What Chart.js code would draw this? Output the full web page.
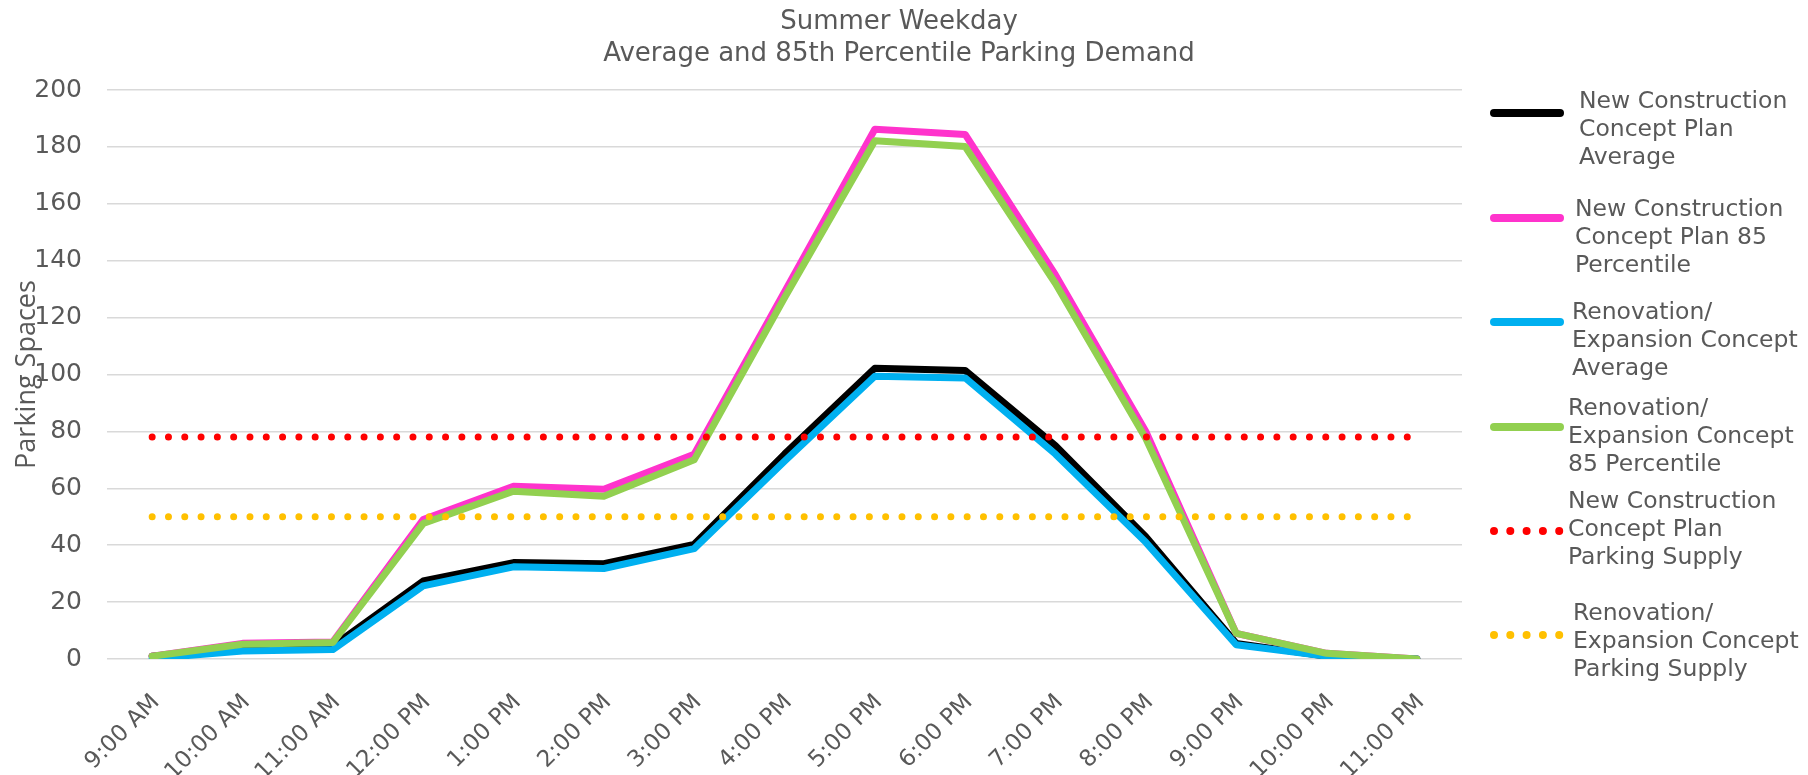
<!DOCTYPE html>
<html>
<head>
<meta charset="utf-8">
<script src="https://cdn.jsdelivr.net/npm/chart.js@4.4.1/dist/chart.umd.min.js"></script>
<style>
  html, body { margin: 0; padding: 0; background: #ffffff; }
  #wrap { position: relative; width: 1808px; height: 775px; }
</style>
</head>
<body>
<div id="wrap"><canvas id="demand"></canvas></div>
<script>
// Hourly parking demand, summer weekday
const hours = ['9:00 AM', '10:00 AM', '11:00 AM', '12:00 PM', '1:00 PM', '2:00 PM', '3:00 PM',
               '4:00 PM', '5:00 PM', '6:00 PM', '7:00 PM', '8:00 PM', '9:00 PM', '10:00 PM', '11:00 PM'];

const newConstructionAverage = [1, 4, 4.5, 27.4, 33.9, 33.5, 40.3, 72, 102.2, 101.4, 75, 43, 5.5, 1, 0];
const newConstruction85      = [1, 5.5, 6, 49, 60.7, 59.7, 72, 129, 186.2, 184.4, 135, 80, 9, 2, 0];
const renovationAverage      = [0.2, 2.8, 3.3, 25.7, 32.4, 31.8, 38.8, 69.5, 99.4, 98.8, 72, 41, 5, 1, 0];
const renovation85           = [1, 5.2, 5.8, 47.6, 59, 57.2, 70, 127, 182.2, 180.1, 132, 77.5, 9, 2, 0];
const newConstructionSupply  = [78, 78, 78, 78, 78, 78, 78, 78, 78, 78, 78, 78, 78, 78, 78];
const renovationSupply       = [50, 50, 50, 50, 50, 50, 50, 50, 50, 50, 50, 50, 50, 50, 50];

const yAxisTicks = [0, 20, 40, 60, 80, 100, 120, 140, 160, 180, 200];

const titleLines = ['Summer Weekday', 'Average and 85th Percentile Parking Demand'];
const yAxisTitle = 'Parking Spaces';

const seriesNames = [
  ['New Construction', 'Concept Plan', 'Average'],
  ['New Construction', 'Concept Plan 85', 'Percentile'],
  ['Renovation/', 'Expansion Concept', 'Average'],
  ['Renovation/', 'Expansion Concept', '85 Percentile'],
  ['New Construction', 'Concept Plan', 'Parking Supply'],
  ['Renovation/', 'Expansion Concept', 'Parking Supply']
];

const FONT = "'DejaVu Sans', 'Noto Sans', sans-serif";
const TEXT_COLOR = '#595959';

// Legend placement on the right-hand side
const legendSwatchX = [1490, 1564];
const legendSwatchY = [113, 218, 322, 427, 531, 635];
const legendTextX = [1579, 1575, 1572, 1568, 1568, 1573];
const legendTextY = [102, 210, 313, 409, 502, 614];
const legendLineGap = 28;

function solid(label, data, color, order) {
  return {
    label, data, order,
    borderColor: color, backgroundColor: color,
    borderWidth: 7, pointRadius: 0, pointHoverRadius: 0,
    tension: 0, fill: false,
    borderJoinStyle: 'round', borderCapStyle: 'round'
  };
}
function dotted(label, data, color, order) {
  return {
    label, data, order,
    borderColor: color, backgroundColor: color,
    borderWidth: 7, pointRadius: 0, pointHoverRadius: 0,
    borderDash: [0, 16.3], borderCapStyle: 'round',
    tension: 0, fill: false
  };
}

const datasets = [
  solid(seriesNames[0].join(' '), newConstructionAverage, '#000000', 6),
  solid(seriesNames[1].join(' '), newConstruction85, '#FF33CC', 5),
  solid(seriesNames[2].join(' '), renovationAverage, '#00B0F0', 4),
  solid(seriesNames[3].join(' '), renovation85, '#92D050', 3),
  dotted(seriesNames[4].join(' '), newConstructionSupply, '#FF0000', 2),
  dotted(seriesNames[5].join(' '), renovationSupply, '#FFC000', 1)
];

// Title and multi-line legend drawn on the canvas
const decorations = {
  id: 'decorations',
  afterDraw(chart) {
    const ctx = chart.ctx;
    ctx.save();
    ctx.fillStyle = TEXT_COLOR;
    ctx.textAlign = 'center';
    ctx.textBaseline = 'middle';
    ctx.font = '26px ' + FONT;
    ctx.fillText(titleLines[0], 899, 22);
    ctx.fillText(titleLines[1], 899, 54);

    chart.data.datasets.forEach((ds, i) => {
      const y = legendSwatchY[i];
      ctx.save();
      ctx.strokeStyle = ds.borderColor;
      ctx.lineWidth = 8;
      ctx.lineCap = 'round';
      if (ds.borderDash) ctx.setLineDash([0, 16.3]);
      ctx.beginPath();
      ctx.moveTo(legendSwatchX[0] + 4, y);
      ctx.lineTo(legendSwatchX[1] - 4, y);
      ctx.stroke();
      ctx.restore();

      ctx.textAlign = 'left';
      ctx.font = '23.5px ' + FONT;
      seriesNames[i].forEach((line, k) => {
        ctx.fillText(line, legendTextX[i], legendTextY[i] + k * legendLineGap);
      });
    });
    ctx.restore();
  }
};

new Chart(document.getElementById('demand'), {
  type: 'line',
  data: { labels: hours, datasets },
  options: {
    responsive: true,
    maintainAspectRatio: false,
    devicePixelRatio: 1,
    animation: false,
    events: [],
    layout: { padding: { top: 90, right: 346, bottom: 0, left: 0 } },
    plugins: {
      legend: { display: false },
      tooltip: { enabled: false },
      title: { display: false }
    },
    scales: {
      x: {
        offset: true,
        grid: { display: false, drawTicks: false },
        border: { display: false },
        ticks: {
          autoSkip: false,
          minRotation: 45, maxRotation: 45,
          padding: 30,
          labelOffset: 4,
          color: TEXT_COLOR,
          font: { family: FONT, size: 23 }
        },
        afterFit(scale) { scale.height = 116; }
      },
      y: {
        min: 0, max: 200,
        afterBuildTicks(scale) { scale.ticks = yAxisTicks.map(v => ({ value: v })); },
        grid: { color: '#d9d9d9', lineWidth: 1.5, drawTicks: false },
        border: { display: false },
        ticks: {
          padding: 25,
          color: TEXT_COLOR,
          font: { family: FONT, size: 25 }
        },
        title: {
          display: true,
          text: yAxisTitle,
          color: TEXT_COLOR,
          padding: { top: 11, bottom: 0 },
          font: { family: "'Open Sans', 'Noto Sans', sans-serif", size: 27 }
        },
        afterFit(scale) { scale.width = 107; }
      }
    }
  },
  plugins: [decorations]
});
</script>
</body>
</html>
